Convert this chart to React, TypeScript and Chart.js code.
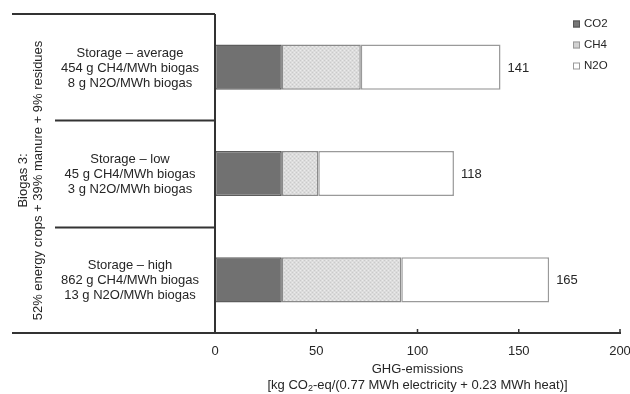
import { useEffect, useRef } from "react";
import { Chart, registerables } from "chart.js";

Chart.register(...registerables);

const categories: string[][] = [
  ["Storage – average", "454 g CH4/MWh biogas", "8 g N2O/MWh biogas"],
  ["Storage – low", "45 g CH4/MWh biogas", "3 g N2O/MWh biogas"],
  ["Storage – high", "862 g CH4/MWh biogas", "13 g N2O/MWh biogas"],
];
const seriesNames = ["CO2", "CH4", "N2O"];
const co2Values = [33, 33, 33];
const ch4Values = [39, 18, 59];
const n2oValues = [69, 67, 73];
const totalLabels = ["141", "118", "165"];
const xTickValues = [0, 50, 100, 150, 200];
const groupTitle = ["Biogas 3:", "52% energy crops + 39% manure + 9% residues"];
const axisTitleLine1 = "GHG-emissions";
const axisTitleLine2 = ["[kg CO", "2", "-eq/(0.77 MWh electricity + 0.23 MWh heat)]"];

const FONT = "'Liberation Sans', Arial, sans-serif";
const TEXT = "#262626";

function makePattern(): CanvasPattern | string {
  const c = document.createElement("canvas");
  c.width = 4;
  c.height = 4;
  const g = c.getContext("2d");
  if (!g) return "#dadada";
  g.fillStyle = "#dcdcdc";
  g.fillRect(0, 0, 4, 4);
  g.fillStyle = "#cacaca";
  g.fillRect(0, 0, 1, 1);
  g.fillRect(2, 2, 1, 1);
  g.fillStyle = "#ebebeb";
  g.fillRect(2, 0, 1, 1);
  g.fillRect(0, 2, 1, 1);
  const p = g.createPattern(c, "repeat");
  return p || "#dadada";
}

export default function App() {
  const ref = useRef<HTMLCanvasElement | null>(null);

  useEffect(() => {
    const canvas = ref.current;
    if (!canvas) return;
    const pattern = makePattern();

    const fills = ["#717171", pattern, "#ffffff"];
    const legendFills = ["#777777", "#d2d2d2", "#ffffff"];
    const borders = ["#5c5c5c", "#8a8a8a", "#9a9a9a"];

    const overlay = {
      id: "overlay",
      afterDraw(chart: any) {
        const ctx = chart.ctx as CanvasRenderingContext2D;
        const area = chart.chartArea;
        const xs = chart.scales.x;
        const ys = chart.scales.y;
        ctx.save();

        // frame lines
        ctx.strokeStyle = "#333333";
        ctx.lineWidth = 2;
        ctx.beginPath();
        ctx.moveTo(12, area.top);
        ctx.lineTo(area.left, area.top);
        ctx.moveTo(area.left, area.top);
        ctx.lineTo(area.left, area.bottom);
        ctx.moveTo(12, area.bottom);
        ctx.lineTo(area.left, area.bottom);
        // separators between categories
        for (let i = 0; i < categories.length - 1; i++) {
          const yA = ys.getPixelForValue(i);
          const yB = ys.getPixelForValue(i + 1);
          const ym = Math.round((yA + yB) / 2) + 0.5;
          ctx.moveTo(55, ym);
          ctx.lineTo(area.left, ym);
        }
        ctx.stroke();

        // tick marks upward
        ctx.lineWidth = 1.5;
        ctx.beginPath();
        xTickValues.forEach((v) => {
          const px = xs.getPixelForValue(v);
          ctx.moveTo(px, area.bottom);
          ctx.lineTo(px, area.bottom - 4);
        });
        ctx.stroke();

        // category labels
        ctx.fillStyle = TEXT;
        ctx.font = `13px ${FONT}`;
        ctx.textAlign = "center";
        ctx.textBaseline = "middle";
        categories.forEach((lines, i) => {
          const cy = ys.getPixelForValue(i) + 1;
          lines.forEach((t, j) => {
            ctx.fillText(t, 130, cy + (j - 1) * 15);
          });
        });

        // rotated group title
        ctx.save();
        ctx.translate(30, (area.top + area.bottom) / 2 + 7);
        ctx.rotate(-Math.PI / 2);
        ctx.textAlign = "center";
        ctx.textBaseline = "middle";
        ctx.fillText(groupTitle[0], 0, -7);
        ctx.fillText(groupTitle[1], 0, 8);
        ctx.restore();

        // totals
        ctx.textAlign = "left";
        ctx.textBaseline = "middle";
        totalLabels.forEach((t, i) => {
          const total = co2Values[i] + ch4Values[i] + n2oValues[i];
          ctx.fillText(t, xs.getPixelForValue(total) + 7, ys.getPixelForValue(i) + 1);
        });

        // axis title
        const cx = (xs.getPixelForValue(0) + xs.getPixelForValue(200)) / 2;
        ctx.textAlign = "center";
        ctx.fillText(axisTitleLine1, cx, 369);
        ctx.font = `13px ${FONT}`;
        const w1 = ctx.measureText(axisTitleLine2[0]).width;
        const w3 = ctx.measureText(axisTitleLine2[2]).width;
        ctx.font = `9px ${FONT}`;
        const w2 = ctx.measureText(axisTitleLine2[1]).width;
        let sx = cx - (w1 + w2 + w3) / 2;
        ctx.textAlign = "left";
        ctx.font = `13px ${FONT}`;
        ctx.fillText(axisTitleLine2[0], sx, 385);
        sx += w1;
        ctx.font = `9px ${FONT}`;
        ctx.fillText(axisTitleLine2[1], sx, 389);
        sx += w2;
        ctx.font = `13px ${FONT}`;
        ctx.fillText(axisTitleLine2[2], sx, 385);

        // legend
        ctx.font = `11.5px ${FONT}`;
        seriesNames.forEach((name, i) => {
          const ly = 24 + i * 21;
          ctx.fillStyle = legendFills[i];
          ctx.fillRect(573, ly - 3.5, 7, 7);
          ctx.strokeStyle = i === 0 ? "#555555" : "#999999";
          ctx.lineWidth = 1;
          ctx.strokeRect(573.5, ly - 3, 6, 6);
          ctx.fillStyle = TEXT;
          ctx.textAlign = "left";
          ctx.textBaseline = "middle";
          ctx.fillText(name, 584, ly);
        });

        ctx.restore();
      },
    };

    const chart = new Chart(canvas, {
      type: "bar",
      data: {
        labels: categories.map((c) => c[0]),
        datasets: [co2Values, ch4Values, n2oValues].map((vals, i) => ({
          label: seriesNames[i],
          data: vals,
          backgroundColor: fills[i] as any,
          borderColor: borders[i],
          borderWidth: 1.5,
          borderSkipped: false,
          categoryPercentage: 0.8,
          barPercentage: 0.53,
        })),
      },
      options: {
        indexAxis: "y",
        responsive: false,
        animation: false,
        devicePixelRatio: 1,
        layout: { padding: { left: 215, right: 10, top: 14, bottom: 0 } },
        plugins: {
          legend: { display: false },
          tooltip: { enabled: false },
        },
        scales: {
          y: { display: false, stacked: true },
          x: {
            stacked: true,
            min: 0,
            max: 200,
            afterFit: (s: any) => {
              s.height = 61;
              s.paddingLeft = 0;
              s.paddingRight = 0;
            },
            afterBuildTicks: (s: any) => {
              s.ticks = xTickValues.map((v) => ({ value: v }));
            },
            grid: { display: false, drawTicks: false },
            border: { display: true, color: "#333333", width: 2 },
            ticks: {
              padding: 11,
              color: TEXT,
              font: { size: 13, family: FONT },
              maxRotation: 0,
            },
          },
        },
      },
      plugins: [overlay],
    } as any);

    return () => chart.destroy();
  }, []);

  return (
    <div style={{ position: "fixed", left: 0, top: 0, width: 630, height: 394, background: "#fff" }}>
      <canvas ref={ref} width={630} height={394} style={{ display: "block" }} />
    </div>
  );
}
